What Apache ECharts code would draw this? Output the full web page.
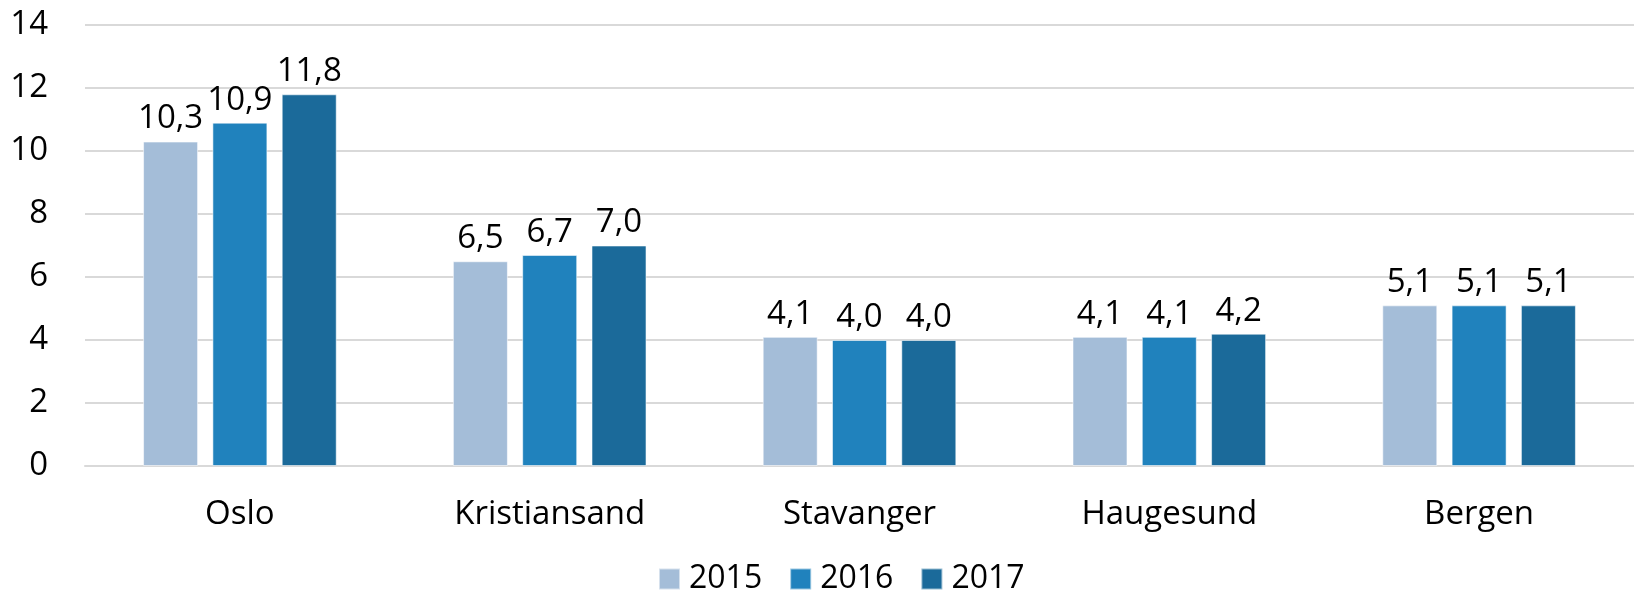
<!DOCTYPE html>
<html>
<head>
<meta charset="utf-8">
<script src="https://cdn.jsdelivr.net/npm/echarts@6/dist/echarts.min.js"></script>
<style>
  html, body { margin: 0; padding: 0; background: #fff; }
  #chart { width: 1634px; height: 596px; }
</style>
</head>
<body>
<div id="chart"></div>
<script>
// data
var cities = ['Oslo', 'Kristiansand', 'Stavanger', 'Haugesund', 'Bergen'];
var years = ['2015', '2016', '2017'];
var v2015 = [10.3, 6.5, 4.1, 4.1, 5.1];
var v2016 = [10.9, 6.7, 4.0, 4.1, 5.1];
var v2017 = [11.8, 7.0, 4.0, 4.2, 5.1];
var colors = ['#a4bdd8', '#2082bd', '#1b6a9a'];

var font = '"Open Sans", sans-serif';

function makeSeries(name, data, color) {
    return {
        name: name,
        type: 'bar',
        data: data,
        barGap: '26%',
        barCategoryGap: '37.5%',
        itemStyle: {
            color: color,
            borderColor: 'rgba(255,255,255,0.55)',
            borderWidth: 1
        },
        label: {
            show: true,
            position: 'top',
            distance: 6,
            color: '#000',
            fontFamily: font,
            fontSize: 33,
            formatter: function (p) { return p.value.toFixed(1).replace('.', ','); }
        }
    };
}

var chart = echarts.init(document.getElementById('chart'));
chart.setOption({
    animation: false,
    color: colors,
    grid: { left: 85, right: 0, top: 25, bottom: 130 },
    legend: {
        data: years,
        left: 653,
        bottom: -4,
        itemWidth: 21,
        itemHeight: 21,
        itemGap: 27,
        icon: 'rect',
        textStyle: { color: '#000', fontFamily: font, fontSize: 32, padding: [0, 0, 0, 4] }
    },
    xAxis: {
        type: 'category',
        data: cities,
        axisLine: { lineStyle: { color: '#d9d9d9', width: 2 } },
        axisTick: { show: false },
        axisLabel: { color: '#000', fontFamily: font, fontSize: 33, margin: 32 }
    },
    yAxis: {
        type: 'value',
        min: 0,
        max: 14,
        interval: 2,
        axisLine: { show: false },
        axisTick: { show: false },
        splitLine: { lineStyle: { color: '#d9d9d9', width: 2 } },
        axisLabel: { color: '#000', fontFamily: font, fontSize: 33, margin: 37 }
    },
    series: [
        makeSeries(years[0], v2015, colors[0]),
        makeSeries(years[1], v2016, colors[1]),
        makeSeries(years[2], v2017, colors[2])
    ]
});
</script>
</body>
</html>
